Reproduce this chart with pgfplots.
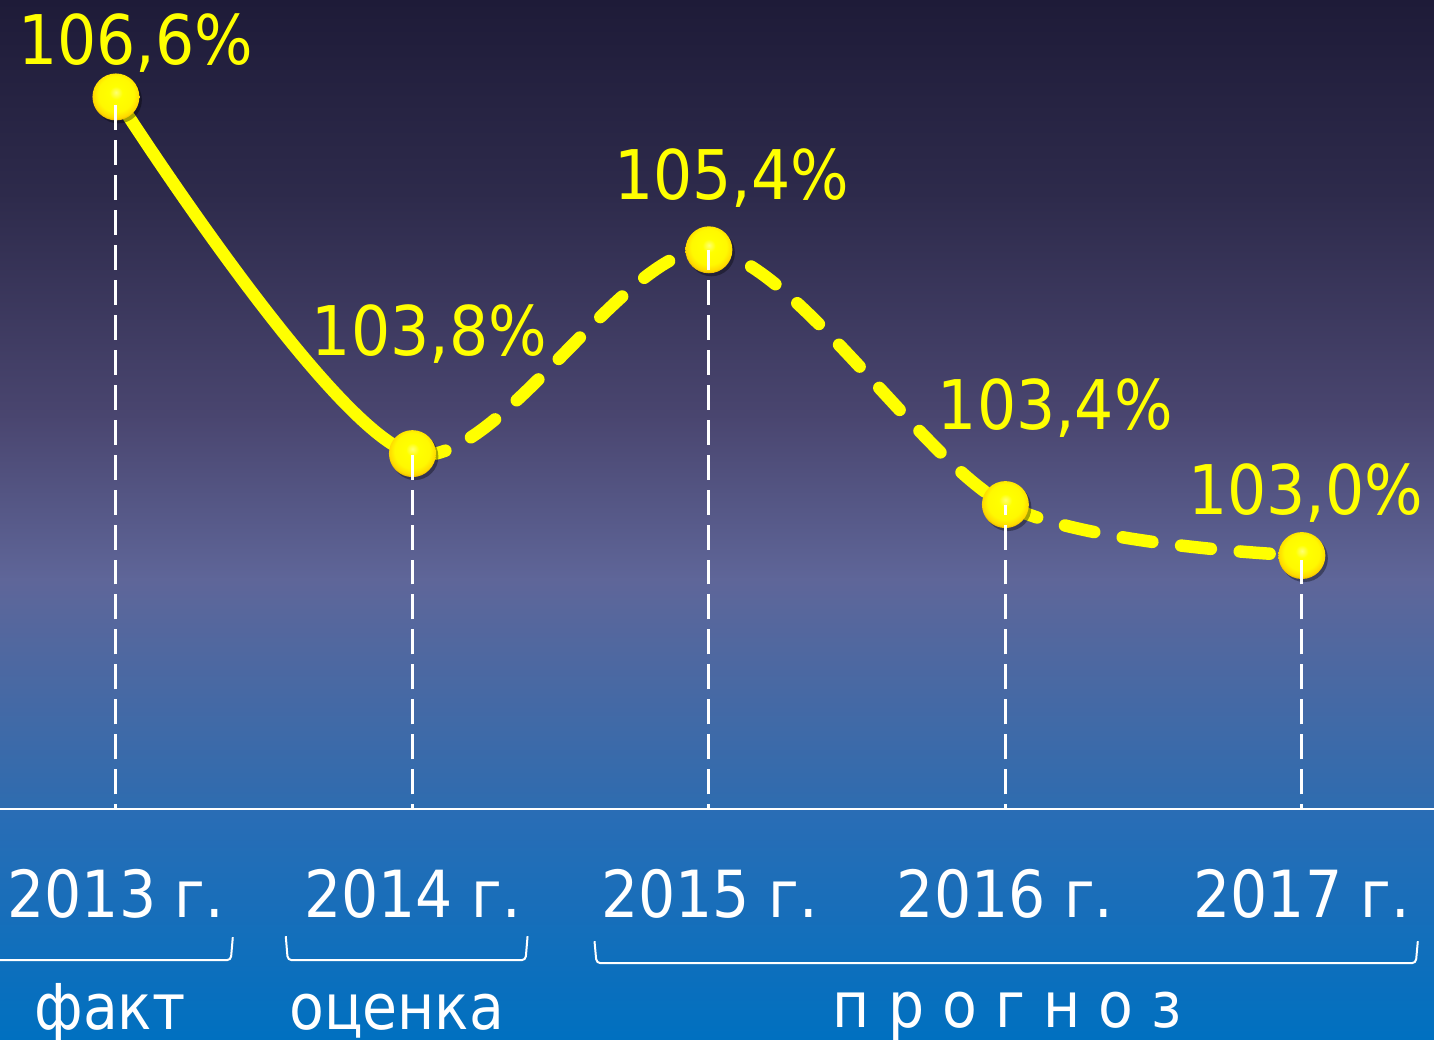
\documentclass[border=0pt]{standalone}
\usepackage{pgfplots}
\pgfplotsset{compat=1.18}
\usepackage{pgfplotstable}
\usepackage{fontspec}
\setmainfont{DejaVu Sans Condensed}

\definecolor{bgA}{HTML}{1E1B38}
\definecolor{bgB}{HTML}{2E2B4C}
\definecolor{bgC}{HTML}{4A4670}
\definecolor{bgD}{HTML}{5F6699}
\definecolor{bgE}{HTML}{2D6CB0}
\definecolor{bandTop}{HTML}{2A6DB5}
\definecolor{bandBot}{HTML}{0070C0}
\definecolor{lineY}{HTML}{FFFF00}
\definecolor{rimY}{HTML}{C89200}

\pgfdeclareradialshading{goldball}{\pgfpoint{0bp}{5bp}}{%
  color(0bp)=(yellow!55!white); color(7bp)=(yellow); color(19bp)=(yellow!95!orange);
  color(25bp)=(yellow!70!orange); color(29bp)=(rimY); color(50bp)=(rimY)}
\pgfdeclareplotmark{goldball}{%
  \pgfpathcircle{\pgfpoint{0.025cm}{-0.03cm}}{\pgfplotmarksize}
  \pgfsetfillcolor{black}\pgfsetfillopacity{0.35}\pgfusepath{fill}%
  \pgfsetfillopacity{1}%
  \pgfpathcircle{\pgfpointorigin}{\pgfplotmarksize}%
  \pgfshadepath{goldball}{0}\pgfusepath{discard}}

% year index, growth in %, label offset (px)
\pgfplotstableread{
x y dx dy
0 106.6 20 32
1 103.8 17 98
2 105.4 23 50
3 103.4 50 75
4 103.0 4 41
}\growth

\tikzset{yr/.style={anchor=base, text=white, font=\fontsize{18.5}{20}\selectfont, inner sep=0pt},
  per/.style={anchor=base, text=white, font=\fontsize{18}{20}\selectfont, inner sep=0pt},
  brace/.style={white, line width=0.02cm, rounded corners=0.04cm}}

\begin{document}
\begin{tikzpicture}
\begin{axis}[
    width=14.35cm, height=10.4cm, scale only axis,
    xmin=-0.391, xmax=4.445,
    ymin=99.204, ymax=107.361,
    hide axis, set layers,
]
% background
\begin{pgfonlayer}{axis background}
\shade[top color=bgA, bottom color=bgB] (rel axis cs:0,1) rectangle (rel axis cs:1,0.805);
\shade[top color=bgB, bottom color=bgC] (rel axis cs:0,0.8087) rectangle (rel axis cs:1,0.594);
\shade[top color=bgC, bottom color=bgD] (rel axis cs:0,0.5972) rectangle (rel axis cs:1,0.440);
\shade[top color=bgD, bottom color=bgE] (rel axis cs:0,0.4433) rectangle (rel axis cs:1,0.218);
\end{pgfonlayer}

% fact: solid
\begin{scope}
\clip (axis cs:-1,98) rectangle (axis cs:1,108);
\addplot[smooth, lineY, line width=0.125cm, line cap=round] table[x=x,y=y] {\growth};
\end{scope}
% estimate and forecast: dashed
\begin{scope}
\clip (axis cs:1,98) rectangle (axis cs:5,108);
\addplot[smooth, lineY, line width=0.125cm, line cap=round, dash pattern=on 0.3cm off 0.29cm] table[x=x,y=y] {\growth};
\end{scope}

\addplot[only marks, mark=goldball, mark size=0.235cm,
    point meta=explicit,
    visualization depends on={\thisrow{dx}\as\dx},
    visualization depends on={\thisrow{dy}\as\dy},
    nodes near coords={\pgfmathprintnumber[fixed,fixed zerofill,precision=1,use comma,assume math mode=true]{\pgfplotspointmeta}\%},
    nodes near coords style={text=lineY, font=\fontsize{19.5}{21}\selectfont, anchor=base,
        xshift={\dx*0.01cm}, yshift={\dy*0.01cm}},
] table[x=x,y=y,meta=y] {\growth};

% drop lines
\addplot[ycomb, white, line width=0.03cm, dash pattern=on 0.25cm off 0.1cm, on layer=axis foreground] table[x=x,y=y] {\growth};

% bottom band with years and periods
\begin{pgfonlayer}{axis foreground}
\shade[top color=bandTop, bottom color=bandBot] (rel axis cs:0,0) rectangle (rel axis cs:1,0.2212);
\draw[white, line width=0.02cm] (rel axis cs:0,0.2212) -- (rel axis cs:1,0.2212);
\node[yr] at ([xshift=1.16cm,yshift=-9.18cm]rel axis cs:0,1) {2013 г.};
\node[yr] at ([xshift=4.13cm,yshift=-9.18cm]rel axis cs:0,1) {2014 г.};
\node[yr] at ([xshift=7.10cm,yshift=-9.18cm]rel axis cs:0,1) {2015 г.};
\node[yr] at ([xshift=10.06cm,yshift=-9.18cm]rel axis cs:0,1) {2016 г.};
\node[yr] at ([xshift=13.03cm,yshift=-9.18cm]rel axis cs:0,1) {2017 г.};
\draw[brace] ([xshift=0cm,yshift=-9.61cm]rel axis cs:0,1) -- ([xshift=2.31cm,yshift=-9.61cm]rel axis cs:0,1) -- ([xshift=2.33cm,yshift=-9.38cm]rel axis cs:0,1);
\draw[brace] ([xshift=2.86cm,yshift=-9.37cm]rel axis cs:0,1) -- ([xshift=2.88cm,yshift=-9.61cm]rel axis cs:0,1) -- ([xshift=5.26cm,yshift=-9.61cm]rel axis cs:0,1) -- ([xshift=5.28cm,yshift=-9.37cm]rel axis cs:0,1);
\draw[brace] ([xshift=5.95cm,yshift=-9.42cm]rel axis cs:0,1) -- ([xshift=5.97cm,yshift=-9.64cm]rel axis cs:0,1) -- ([xshift=14.17cm,yshift=-9.64cm]rel axis cs:0,1) -- ([xshift=14.19cm,yshift=-9.42cm]rel axis cs:0,1);
\node[per] at ([xshift=1.10cm,yshift=-10.30cm]rel axis cs:0,1) {факт};
\node[per] at ([xshift=3.97cm,yshift=-10.30cm]rel axis cs:0,1) {оценка};
\node[per] at ([xshift=10.08cm,yshift=-10.28cm]rel axis cs:0,1) {п р о г н о з};
\end{pgfonlayer}
\end{axis}
\end{tikzpicture}
\end{document}
